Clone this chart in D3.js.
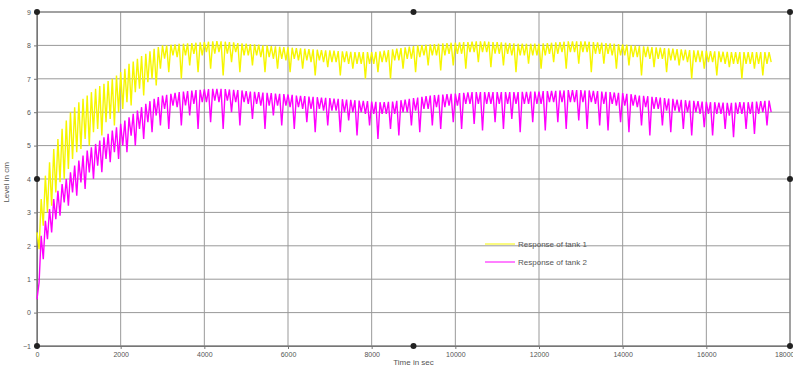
<!DOCTYPE html>
<html>
<head>
<meta charset="utf-8">
<script src="https://cdn.jsdelivr.net/npm/d3@7"></script>
<style>
  body { margin: 0; background: #fff; }
  text { font-family: "Liberation Sans", Arial, sans-serif; fill: #555; }
</style>
</head>
<body>
<div id="chart"></div>
<script>
// samples: a high reading every 100 sec, a low reading 50 sec after it
var timeStep = 100;

var xTicks = [0, 2000, 4000, 6000, 8000, 10000, 12000, 14000, 16000, 18000];
var yTicks = [-1, 0, 1, 2, 3, 4, 5, 6, 7, 8, 9];

var seriesNames = ["Response of tank 1", "Response of tank 2"];

// tank 1, high readings (t = 0, 100, 200 ...)
var tank1Hi = [
  2.4, 3.4, 4.1, 4.5, 4.9, 5.2, 5.5, 5.75, 6.0, 6.15,
  6.3, 6.4, 6.5, 6.6, 6.7, 6.78, 6.85, 6.93, 7.0, 7.1,
  7.2, 7.3, 7.45, 7.52, 7.6, 7.68, 7.75, 7.82, 7.9, 7.95,
  8.0, 8.0, 8.02, 8.03, 8.05, 8.05, 8.06, 8.07, 8.08, 8.09,
  8.1, 8.11, 8.12, 8.13, 8.12, 8.11, 8.1, 8.09, 8.07, 8.06,
  8.05, 8.04, 8.03, 8.02, 8.0, 8.0, 7.98, 7.97, 7.96, 7.95,
  7.94, 7.93, 7.92, 7.91, 7.9, 7.89, 7.88, 7.87, 7.86, 7.85,
  7.85, 7.84, 7.83, 7.82, 7.82, 7.81, 7.8, 7.8, 7.8, 7.8,
  7.8, 7.81, 7.82, 7.84, 7.86, 7.88, 7.9, 7.92, 7.94, 7.96,
  7.98, 8.0, 8.01, 8.02, 8.03, 8.04, 8.05, 8.06, 8.07, 8.08,
  8.08, 8.09, 8.1, 8.1, 8.11, 8.12, 8.12, 8.12, 8.11, 8.1,
  8.1, 8.09, 8.08, 8.07, 8.06, 8.05, 8.05, 8.05, 8.05, 8.05,
  8.05, 8.06, 8.07, 8.08, 8.09, 8.1, 8.11, 8.12, 8.12, 8.12,
  8.12, 8.12, 8.11, 8.1, 8.09, 8.08, 8.07, 8.06, 8.05, 8.04,
  8.03, 8.02, 8.0, 7.99, 7.98, 7.97, 7.96, 7.95, 7.94, 7.93,
  7.92, 7.91, 7.9, 7.89, 7.88, 7.87, 7.86, 7.85, 7.85, 7.84,
  7.84, 7.83, 7.82, 7.82, 7.81, 7.81, 7.8, 7.8, 7.8, 7.8,
  7.8, 7.8, 7.8, 7.8, 7.8, 7.8
];

// tank 1, low readings (t = 50, 150, 250 ...)
var tank1Lo = [
  1.9, 2.6, 3.0, 3.2, 3.6, 3.9, 4.0, 4.3, 4.6, 4.8,
  4.9, 5.2, 5.0, 5.4, 5.5, 5.3, 5.7, 5.8, 5.6, 6.0,
  6.1, 6.3, 6.2, 6.6, 6.7, 6.5, 6.9, 7.0, 6.8, 7.3,
  7.6, 7.2, 7.7, 7.65, 7.0, 7.7, 7.4, 7.75, 7.2, 7.7,
  7.8, 7.3, 7.75, 7.8, 7.1, 7.75, 7.5, 7.8, 7.2, 7.7,
  7.7, 7.4, 7.7, 7.65, 7.2, 7.65, 7.6, 7.3, 7.6, 7.55,
  7.2, 7.6, 7.55, 7.3, 7.55, 7.5, 7.1, 7.55, 7.5, 7.35,
  7.5, 7.5, 7.1, 7.5, 7.45, 7.3, 7.45, 7.45, 7.0, 7.45,
  7.45, 7.2, 7.5, 7.5, 7.0, 7.55, 7.55, 7.3, 7.6, 7.6,
  7.2, 7.65, 7.7, 7.4, 7.7, 7.7, 7.25, 7.7, 7.75, 7.4,
  7.75, 7.75, 7.3, 7.8, 7.8, 7.5, 7.8, 7.8, 7.35, 7.75,
  7.75, 7.4, 7.75, 7.7, 7.2, 7.7, 7.7, 7.45, 7.7, 7.7,
  7.3, 7.7, 7.75, 7.5, 7.75, 7.8, 7.3, 7.8, 7.8, 7.45,
  7.8, 7.8, 7.2, 7.75, 7.75, 7.45, 7.75, 7.7, 7.3, 7.7,
  7.7, 7.4, 7.65, 7.65, 7.1, 7.65, 7.6, 7.35, 7.6, 7.6,
  7.2, 7.55, 7.55, 7.4, 7.55, 7.5, 7.0, 7.5, 7.5, 7.3,
  7.5, 7.5, 7.1, 7.5, 7.45, 7.35, 7.45, 7.45, 7.0, 7.45,
  7.45, 7.3, 7.45, 7.1, 7.45, 7.5
];

// tank 2, high readings
var tank2Hi = [
  0.4, 2.3, 2.75, 3.1, 3.4, 3.65, 3.85, 4.0, 4.2, 4.4,
  4.55, 4.7, 4.85, 4.95, 5.05, 5.15, 5.25, 5.35, 5.45, 5.55,
  5.65, 5.75, 5.85, 5.95, 6.05, 6.15, 6.25, 6.33, 6.4, 6.45,
  6.5, 6.52, 6.55, 6.58, 6.6, 6.62, 6.63, 6.65, 6.66, 6.67,
  6.68, 6.69, 6.7, 6.7, 6.7, 6.69, 6.68, 6.67, 6.66, 6.65,
  6.63, 6.62, 6.61, 6.6, 6.59, 6.58, 6.57, 6.56, 6.55, 6.54,
  6.53, 6.52, 6.5, 6.49, 6.48, 6.47, 6.46, 6.45, 6.44, 6.43,
  6.42, 6.41, 6.4, 6.39, 6.38, 6.37, 6.36, 6.35, 6.34, 6.33,
  6.32, 6.31, 6.3, 6.3, 6.31, 6.32, 6.34, 6.36, 6.38, 6.4,
  6.42, 6.44, 6.46, 6.48, 6.5, 6.51, 6.52, 6.53, 6.54, 6.55,
  6.56, 6.57, 6.58, 6.59, 6.6, 6.6, 6.6, 6.6, 6.6, 6.6,
  6.6, 6.6, 6.6, 6.6, 6.6, 6.6, 6.61, 6.61, 6.62, 6.62,
  6.62, 6.63, 6.63, 6.64, 6.64, 6.65, 6.65, 6.66, 6.66, 6.66,
  6.66, 6.65, 6.65, 6.64, 6.63, 6.62, 6.61, 6.6, 6.59, 6.58,
  6.57, 6.55, 6.54, 6.52, 6.5, 6.49, 6.48, 6.46, 6.45, 6.44,
  6.42, 6.41, 6.4, 6.38, 6.37, 6.36, 6.35, 6.34, 6.33, 6.32,
  6.31, 6.3, 6.3, 6.29, 6.29, 6.28, 6.28, 6.29, 6.3, 6.3,
  6.3, 6.31, 6.32, 6.33, 6.34, 6.35
];

// tank 2, low readings
var tank2Lo = [
  0.9, 1.6, 2.2, 2.4, 2.8, 2.9, 3.3, 3.2, 3.6, 3.5,
  3.9, 3.7, 4.2, 4.0, 4.4, 4.2, 4.6, 4.5, 4.8, 4.6,
  5.0, 4.8, 5.3, 5.0, 5.5, 5.2, 5.7, 5.4, 5.9, 5.6,
  6.1, 5.5, 6.2, 6.15, 5.6, 6.2, 5.9, 6.25, 5.5, 6.3,
  6.3, 5.7, 6.35, 6.3, 5.5, 6.35, 6.0, 6.3, 5.6, 6.3,
  6.25, 5.8, 6.25, 6.2, 5.5, 6.2, 5.9, 6.2, 5.6, 6.2,
  6.15, 5.5, 6.15, 6.1, 5.7, 6.1, 5.4, 6.1, 6.05, 5.6,
  6.05, 6.05, 5.4, 6.0, 5.75, 6.0, 5.3, 6.0, 5.95, 5.6,
  5.95, 5.2, 5.95, 5.95, 5.5, 5.95, 5.3, 6.0, 6.0, 5.6,
  6.05, 5.4, 6.1, 6.1, 5.6, 6.15, 5.5, 6.15, 6.2, 5.7,
  6.2, 5.5, 6.25, 6.25, 5.65, 6.25, 5.45, 6.25, 6.25, 5.7,
  6.25, 5.5, 6.25, 5.8, 6.25, 5.4, 6.25, 6.25, 5.7, 6.25,
  6.25, 5.45, 6.3, 6.3, 5.7, 6.3, 5.5, 6.3, 6.3, 5.75,
  6.3, 5.5, 6.3, 6.25, 5.6, 6.25, 5.45, 6.25, 6.2, 5.7,
  6.2, 5.4, 6.2, 6.15, 5.6, 6.15, 5.3, 6.1, 6.1, 5.6,
  6.05, 5.4, 6.05, 6.0, 5.5, 6.0, 5.3, 6.0, 5.95, 5.55,
  5.95, 5.3, 5.95, 5.95, 5.5, 5.9, 5.25, 5.95, 5.95, 5.5,
  5.95, 5.35, 5.95, 6.0, 5.6, 6.0
];

var colors = ["#f6f600", "#ff00ff"];

var width = 793, height = 368;
var margin = { top: 12, left: 37, bottom: 22, right: 3 };

var svg = d3.select("#chart")
  .append("svg")
  .attr("width", width)
  .attr("height", height);

var x = d3.scaleLinear()
  .domain([0, 18000])
  .range([margin.left, width - margin.right]);

var y = d3.scaleLinear()
  .domain([-1, 9])
  .range([height - margin.bottom, margin.top]);

// grid
svg.append("g")
  .selectAll("line")
  .data(xTicks)
  .enter()
  .append("line")
  .attr("x1", function (d) { return x(d); })
  .attr("x2", function (d) { return x(d); })
  .attr("y1", y(-1))
  .attr("y2", y(9))
  .attr("stroke", "#999");

svg.append("g")
  .selectAll("line")
  .data(yTicks)
  .enter()
  .append("line")
  .attr("x1", x(0))
  .attr("x2", x(18000))
  .attr("y1", function (d) { return y(d); })
  .attr("y2", function (d) { return y(d); })
  .attr("stroke", "#999");

// axes
var xAxis = svg.append("g")
  .attr("transform", "translate(0," + y(-1) + ")")
  .call(d3.axisBottom(x).tickValues(xTicks).tickSize(3).tickFormat(d3.format("d")));

var yAxis = svg.append("g")
  .attr("transform", "translate(" + x(0) + ",0)")
  .call(d3.axisLeft(y).tickValues(yTicks).tickSize(3).tickFormat(d3.format("d")));

[xAxis, yAxis].forEach(function (a) {
  a.select(".domain").attr("stroke", "#777");
  a.selectAll(".tick line").attr("stroke", "#777");
  a.selectAll("text").attr("font-size", 7).attr("fill", "#555");
});

// last x label sits at the right edge, keep it inside
xAxis.selectAll(".tick text")
  .filter(function (d) { return d === 18000; })
  .attr("text-anchor", "end")
  .attr("dx", 4);

svg.append("rect")
  .attr("x", x(0))
  .attr("y", y(9))
  .attr("width", x(18000) - x(0))
  .attr("height", y(-1) - y(9))
  .attr("fill", "none")
  .attr("stroke", "#777");

// series: high and low readings joined in time order
function samples(hi, lo) {
  var pts = [];
  hi.forEach(function (v, i) {
    pts.push([i * timeStep, v]);
    pts.push([i * timeStep + timeStep / 2, lo[i]]);
  });
  return pts;
}

var line = d3.line()
  .x(function (d) { return x(d[0]); })
  .y(function (d) { return y(d[1]); });

[[tank1Hi, tank1Lo], [tank2Hi, tank2Lo]].forEach(function (s, k) {
  svg.append("path")
    .datum(samples(s[0], s[1]))
    .attr("d", line)
    .attr("fill", "none")
    .attr("stroke", colors[k])
    .attr("stroke-width", 1.4)
    .attr("stroke-linejoin", "miter");
});

// labels
svg.append("text")
  .attr("x", x(9000))
  .attr("y", 365)
  .attr("text-anchor", "middle")
  .attr("font-size", 8)
  .text("Time in sec");

svg.append("text")
  .attr("transform", "translate(9," + y(3.9) + ") rotate(-90)")
  .attr("text-anchor", "middle")
  .attr("font-size", 8)
  .text("Level in cm");

// legend
var legend = svg.append("g")
  .attr("transform", "translate(485,244)");

var row = legend.selectAll("g")
  .data(seriesNames)
  .enter()
  .append("g")
  .attr("transform", function (d, i) { return "translate(0," + i * 18 + ")"; });

row.append("line")
  .attr("x1", 0)
  .attr("x2", 30)
  .attr("stroke", function (d, i) { return colors[i]; })
  .attr("stroke-width", 1);

row.append("text")
  .attr("x", 33)
  .attr("dy", "0.35em")
  .attr("font-size", 8)
  .text(function (d) { return d; });

// picture resize handles seen in the source image
var handles = [[0, 9], [9000, 9], [18000, 9], [0, 4], [18000, 4], [0, -1], [9000, -1], [18000, -1]];
svg.append("g")
  .selectAll("circle")
  .data(handles)
  .enter()
  .append("circle")
  .attr("cx", function (d) { return x(d[0]); })
  .attr("cy", function (d) { return y(d[1]); })
  .attr("r", 3)
  .attr("fill", "#222");
</script>
</body>
</html>
